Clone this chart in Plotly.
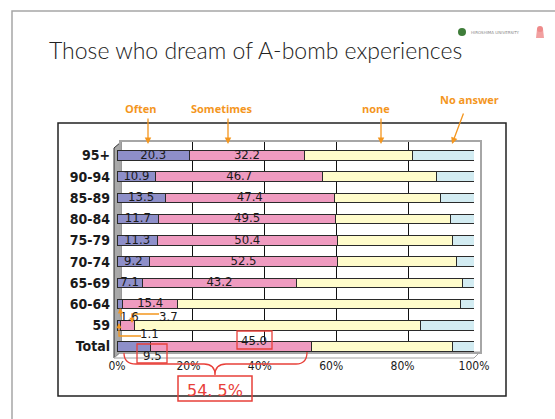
import plotly.graph_objects as go

categories = ["95+", "90-94", "85-89", "80-84", "75-79", "70-74", "65-69", "60-64", "59", "Total"]
often = [20.3, 10.9, 13.5, 11.7, 11.3, 9.2, 7.1, 1.6, 1.1, 9.5]
sometimes = [32.2, 46.7, 47.4, 49.5, 50.4, 52.5, 43.2, 15.4, 3.7, 45.0]
none_ = [30.4, 32.0, 29.6, 32.1, 32.4, 33.5, 46.5, 79.3, 80.1, 39.6]
no_answer = [17.1, 10.4, 9.5, 6.7, 5.9, 4.8, 3.2, 3.7, 15.1, 5.9]
series_names = ["Often", "Sometimes", "none", "No answer"]
series_colors = ["#8E8FC9", "#EF9BC0", "#FFFCCB", "#D3ECF2"]
x_ticks = [0, 20, 40, 60, 80, 100]
x_ticklabels = ["0%", "20%", "40%", "60%", "80%", "100%"]
total_share = "54. 5%"

W, H = 555, 419
ORANGE = "#F4961E"
RED = "#E8403A"
LBL_FONT = "DejaVu Sans Condensed, Liberation Sans Narrow, sans-serif"


def px(x):
    return x / W


def py(y):
    return 1 - y / H


fig = go.Figure()

# back wall grid subplot (xy)
fig.add_trace(go.Scatter(x=[None], y=[None], xaxis="x", yaxis="y", showlegend=False, hoverinfo="skip"))

# bars (x2y2)
for name, vals, col in zip(series_names, [often, sometimes, none_, no_answer], series_colors):
    fig.add_trace(go.Bar(
        y=categories, x=vals, orientation="h", name=name,
        marker=dict(color=col, line=dict(color="#2a2a2a", width=1)),
        xaxis="x2", yaxis="y2", showlegend=False, hoverinfo="x+name",
    ))

# in-bar value labels
lab_x, lab_y, lab_t = [], [], []
for i, c in enumerate(categories):
    if i < 7:
        lab_x.append(often[i] / 2)
        lab_y.append(c)
        lab_t.append(f"{often[i]:.1f}")
    if i < 8:
        lab_x.append(often[i] + sometimes[i] / 2)
        lab_y.append(c)
        lab_t.append(f"{sometimes[i]:.1f}")
fig.add_trace(go.Scatter(
    x=lab_x, y=lab_y, text=lab_t, mode="text", xaxis="x2", yaxis="y2",
    textfont=dict(family=LBL_FONT, size=13, color="#1a1a1a"),
    showlegend=False, hoverinfo="skip", cliponaxis=False,
))

shapes = []
annotations = []


def arrow(hx, hy, tx, ty, size=1.0):
    annotations.append(dict(text="", xref="paper", yref="paper", x=px(hx), y=py(hy),
                            ax=tx - hx, ay=ty - hy, axref="pixel", ayref="pixel",
                            showarrow=True, arrowhead=2, arrowsize=size, arrowwidth=1.3,
                            arrowcolor=ORANGE))


def label(text, x, y, size=13, color="#1a1a1a", family=LBL_FONT):
    annotations.append(dict(text=text, xref="paper", yref="paper", x=px(x), y=py(y),
                            xanchor="center", yanchor="middle",
                            showarrow=False, font=dict(family=family, size=size, color=color)))


# slide frame
shapes.append(dict(type="path", xref="paper", yref="paper",
                   path=f"M {px(12)},{py(419)} L {px(12)},{py(11)} L {px(556)},{py(11)}",
                   line=dict(color="#A6A6A6", width=1.5)))
# chart box
shapes.append(dict(type="rect", xref="paper", yref="paper",
                   x0=px(58), x1=px(506), y0=py(396), y1=py(123),
                   line=dict(color="#222222", width=1.5), layer="below"))
# left wall
shapes.append(dict(type="path", xref="paper", yref="paper",
                   path=f"M {px(114)},{py(358)} L {px(114)},{py(148)} L {px(121)},{py(142)} L {px(121)},{py(352)} Z",
                   fillcolor="#A9A9A9", line=dict(color="#333333", width=1), layer="below"))
# floor
shapes.append(dict(type="path", xref="paper", yref="paper",
                   path=f"M {px(114)},{py(358)} L {px(474)},{py(358)} L {px(480)},{py(352)} L {px(121)},{py(352)} Z",
                   fillcolor="#FFFFFF", line=dict(color="#A0A0A0", width=1), layer="below"))

# title
annotations.append(dict(text="Those who dream of A-bomb experiences", xref="paper", yref="paper",
                        x=px(47), y=py(50), xanchor="left", yanchor="middle", showarrow=False,
                        font=dict(family="Lato, Open Sans, sans-serif", size=23, color="#222222", weight=300)))

# logo (blurred university mark)
shapes.append(dict(type="circle", xref="paper", yref="paper", x0=px(458), x1=px(466), y0=py(36), y1=py(28),
                   fillcolor="#3F7D3A", line=dict(width=0)))
annotations.append(dict(text="HIROSHIMA UNIVERSITY", xref="paper", yref="paper", x=px(469), y=py(32),
                        xanchor="left", yanchor="middle", showarrow=False,
                        font=dict(family="DejaVu Sans", size=4, color="#8A8A8A")))
shapes.append(dict(type="path", xref="paper", yref="paper",
                   path=f"M {px(537)},{py(29)} L {px(543)},{py(29)} L {px(544)},{py(38)} L {px(536)},{py(38)} Z",
                   fillcolor="#F2A0A0", line=dict(width=0)))
shapes.append(dict(type="circle", xref="paper", yref="paper", x0=px(537), x1=px(543), y0=py(32), y1=py(26),
                   fillcolor="#EE8A8A", line=dict(width=0)))

# series labels with arrows
for name, lx, ly, hx, tx, ty in [
    ("Often", 141, 108, 148, 148, 117),
    ("Sometimes", 222, 108, 228, 228, 117),
    ("none", 376, 108, 381, 381, 117),
    ("No answer", 469, 99, 452, 464, 112),
]:
    label(f"<b>{name}</b>", lx, ly, size=11, color=ORANGE, family="Open Sans, sans-serif")
    arrow(hx, 144, tx, ty)

# small-value callouts (60-64 often, 59 often/sometimes)
label(f"{often[7]:.1f}", 129, 316)
arrow(120, 308, 121, 318, 0.8)
label(f"{sometimes[8]:.1f}", 168, 316)
shapes.append(dict(type="path", xref="paper", yref="paper",
                   path=f"M {px(159)},{py(314)} L {px(132)},{py(314)} L {px(132)},{py(318)}",
                   line=dict(color=ORANGE, width=1.3)))
arrow(132, 323, 132, 316, 0.8)
label(f"{often[8]:.1f}", 149, 333)
shapes.append(dict(type="path", xref="paper", yref="paper",
                   path=f"M {px(141)},{py(336)} L {px(119)},{py(336)} L {px(119)},{py(330)}",
                   line=dict(color=ORANGE, width=1.3)))
arrow(119, 323, 119, 331, 0.8)

# Total callouts
label(f"{sometimes[9]:.1f}", 254, 340)
shapes.append(dict(type="rect", xref="paper", yref="paper", x0=px(237), x1=px(272), y0=py(349), y1=py(331),
                   line=dict(color=RED, width=1.3)))
label(f"{often[9]:.1f}", 152, 355)
shapes.append(dict(type="rect", xref="paper", yref="paper", x0=px(137), x1=px(167), y0=py(363), y1=py(344),
                   line=dict(color=RED, width=1.3)))
# brace
shapes.append(dict(type="path", xref="paper", yref="paper",
                   path=(f"M {px(124)},{py(353)} Q {px(124)},{py(364)} {px(136)},{py(364)} "
                         f"L {px(204)},{py(364)} Q {px(215)},{py(364)} {px(215)},{py(375)} "
                         f"Q {px(215)},{py(364)} {px(226)},{py(364)} L {px(296)},{py(364)} "
                         f"Q {px(307)},{py(364)} {px(307)},{py(352)}"),
                   line=dict(color=RED, width=1.3)))
shapes.append(dict(type="rect", xref="paper", yref="paper", x0=px(178), x1=px(252), y0=py(401), y1=py(376),
                   line=dict(color=RED, width=1.5)))
label(total_share, 215, 390, size=16, color=RED, family="DejaVu Sans, sans-serif")

fig.update_layout(
    width=W, height=H, margin=dict(l=0, r=0, t=0, b=0, autoexpand=False),
    paper_bgcolor="white", plot_bgcolor="rgba(0,0,0,0)",
    barmode="stack", bargap=0.55, showlegend=False,
    xaxis=dict(domain=[px(121), px(480)], range=[0, 100], anchor="y", automargin=False,
               tickvals=[20, 40, 60, 80], showticklabels=False, ticks="",
               showgrid=True, gridcolor="#111111", gridwidth=1, zeroline=False,
               showline=True, mirror=True, linecolor="#A6A6A6", linewidth=1.5, fixedrange=True),
    yaxis=dict(domain=[py(352), py(142)], range=[0, 1], anchor="x", automargin=False,
               showgrid=False, zeroline=False, showticklabels=False, ticks="",
               showline=True, mirror=True, linecolor="#A6A6A6", linewidth=1.5, fixedrange=True),
    xaxis2=dict(domain=[px(117), px(474)], range=[0, 100], anchor="y2", automargin=False,
                tickvals=x_ticks, ticktext=x_ticklabels, ticks="",
                tickfont=dict(family=LBL_FONT, size=12, color="#1a1a1a"),
                showgrid=False, zeroline=False, showline=False, fixedrange=True),
    yaxis2=dict(domain=[py(357.1), py(144.9)], anchor="x2", type="category", automargin=False,
                categoryorder="array", categoryarray=categories, autorange="reversed",
                tickfont=dict(family=LBL_FONT, size=14, color="#1a1a1a", weight="bold"),
                ticks="", ticklabelstandoff=6, showgrid=False, zeroline=False, showline=False,
                fixedrange=True),
    shapes=shapes, annotations=annotations,
)

fig.write_html("out.html", config={"displayModeBar": False},
               post_script="document.body.style.margin='0';document.body.style.overflow='hidden';")
